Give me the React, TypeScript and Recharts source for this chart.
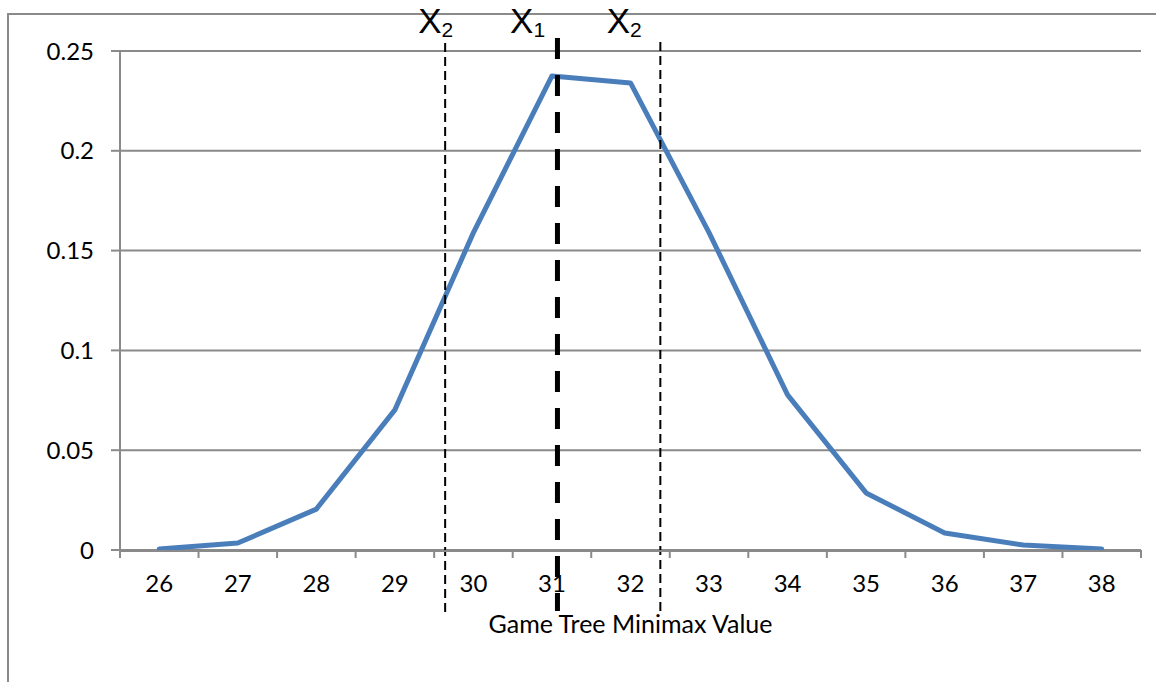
import React from 'react';
import { LineChart, Line, XAxis, YAxis, CartesianGrid, ReferenceLine, ReferenceDot } from 'recharts';

const values = [26, 27, 28, 29, 30, 31, 32, 33, 34, 35, 36, 37, 38];
const probs = [0.0005, 0.0035, 0.0205, 0.0702, 0.159, 0.2375, 0.234, 0.159, 0.0777, 0.0286, 0.0085, 0.0025, 0.0005];
const yTicks = [0, 0.05, 0.1, 0.15, 0.2, 0.25];
const boundaryTicks = [25.5, 26.5, 27.5, 28.5, 29.5, 30.5, 31.5, 32.5, 33.5, 34.5, 35.5, 36.5, 37.5, 38.5];
const markerNames = ['X2', 'X1', 'X2'];
const markerSubs = ['2', '1', '2'];
const markerX = [29.64, 31.07, 32.38];
const markerTop = [0.254, 0.2565, 0.2545];
const markerBottom = [-0.0326, -0.0306, -0.0316];
const markerThick = [false, true, false];
const markerLabelX = [29.52, 30.69, 31.92];
const markerLabelY = 0.259;
const xTitle = 'Game Tree Minimax Value';

const data = values.map((v, i) => ({ v, p: probs[i] }));

const FONT = 'Lato, "Open Sans", sans-serif';
const GRAY = '#8a8a8a';

const SubLabel = (props: any) => {
  const { viewBox, main, sub } = props;
  const cx = viewBox.x + (viewBox.width || 0) / 2;
  const cy = viewBox.y + (viewBox.height || 0) / 2;
  return (
    <text x={cx} y={cy} textAnchor="middle" fontFamily='"Liberation Sans", Arial, sans-serif' fill="#000">
      <tspan fontSize={35}>{main}</tspan>
      <tspan fontSize={21} dy={4}>{sub}</tspan>
    </text>
  );
};

const EmptyTick = () => <g />;

export default function App() {
  return (
    <div style={{ position: 'absolute', left: 0, top: 0, width: 1156, height: 682, overflow: 'hidden', background: '#fff' }}>
      <div style={{ position: 'absolute', left: 7, top: 13, width: 1200, height: 800, borderLeft: `2px solid ${GRAY}`, borderTop: `2px solid ${GRAY}` }} />
      <div style={{ position: 'absolute', left: 0, top: 0 }}>
        <LineChart width={1156} height={682} data={data} margin={{ top: 51, right: 15, left: 10, bottom: 31 }}>
          <CartesianGrid vertical={false} stroke={GRAY} strokeWidth={2} />
          <XAxis
            dataKey="v"
            type="number"
            domain={[25.5, 38.5]}
            ticks={boundaryTicks}
            interval={0}
            height={1}
            tick={EmptyTick}
            axisLine={false}
            tickSize={8}
            tickLine={{ stroke: GRAY, strokeWidth: 2 }}
          />
          <XAxis
            xAxisId="lab"
            dataKey="v"
            type="number"
            domain={[25.5, 38.5]}
            ticks={values}
            interval={0}
            height={100}
            tickLine={false}
            tickSize={0}
            tickMargin={24}
            axisLine={{ stroke: GRAY, strokeWidth: 2 }}
            tick={{ fill: '#000', fontSize: 24, fontFamily: FONT }}
            label={{ value: xTitle, position: 'insideBottom', offset: 18, fill: '#000', fontSize: 25, fontFamily: FONT }}
          />
          <YAxis
            type="number"
            domain={[0, 0.25]}
            ticks={yTicks}
            interval={0}
            width={110}
            tickSize={9}
            tickMargin={17}
            tickLine={{ stroke: GRAY, strokeWidth: 2 }}
            axisLine={{ stroke: GRAY, strokeWidth: 2 }}
            tick={{ fill: '#000', fontSize: 24, fontFamily: FONT }}
          />
          <Line
            xAxisId="lab"
            type="linear"
            dataKey="p"
            stroke="#4a7ebb"
            strokeWidth={5}
            strokeLinejoin="round"
            strokeLinecap="round"
            dot={false}
            activeDot={false}
            isAnimationActive={false}
          />
          {markerX.map((x, i) => (
            <ReferenceLine
              key={`l${i}`}
              xAxisId="lab"
              segment={[{ x, y: markerTop[i] }, { x, y: markerBottom[i] }]}
              ifOverflow="visible"
              stroke="#000"
              strokeWidth={markerThick[i] ? 5 : 2}
              strokeDasharray={markerThick[i] ? '21 16' : '9 5'}
            />
          ))}
          {markerLabelX.map((x, i) => (
            <ReferenceDot
              key={`d${i}`}
              xAxisId="lab"
              x={x}
              y={markerLabelY}
              r={0}
              fill="none"
              stroke="none"
              ifOverflow="visible"
              label={<SubLabel main={markerNames[i].charAt(0)} sub={markerSubs[i]} />}
            />
          ))}
        </LineChart>
      </div>
    </div>
  );
}
